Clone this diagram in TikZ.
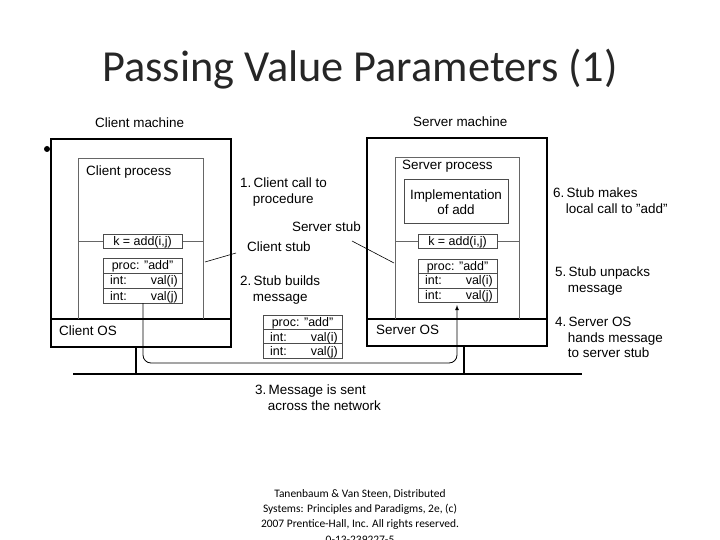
\documentclass[tikz,border=0pt]{standalone}
\usepackage{fontspec}
\setmainfont{Liberation Sans}
\newfontfamily\calib{Carlito}
\begin{document}
\begin{tikzpicture}[x=1bp,y=-1bp,
  mach/.style={draw=black,line width=1.3bp},
  proc/.style={draw=black!60,line width=0.9bp},
  box/.style={draw=black!70,line width=0.9bp},
  lbl/.style={font=\fontsize{13.5}{15.5}\selectfont,align=left,anchor=north west,inner sep=0pt},
  cell/.style={font=\fontsize{12.5}{13}\selectfont,inner sep=0pt,anchor=base},
  cw/.style={cell,anchor=base west},
  ce/.style={cell,anchor=base east}]
\useasboundingbox (0,0) rectangle (720,540);
\node[font=\calib\fontsize{44.5}{46}\selectfont,text=black!85] (title) at (360,69) {Passing Value Parameters (1)};
\fill (47,149) circle (3);
% client machine
\draw[mach] (51,139) rectangle (231,347);
\draw[mach] (51,319) -- (231,319);
\draw[proc] (78,319) -- (78,158) -- (203,158) -- (203,319);
\node[lbl] (cm) at (95,118) {Client machine};
\node[lbl] (cp) at (86,166) {Client process};
\node[lbl] (cos) at (59,326) {Client OS};
\draw[proc] (78,241) -- (103,241) (182,241) -- (203,241);
\draw[box] (103,234) rectangle (182,248);
\node[cell] (ck) at (142.5,246) {k = add(i,j)};
\draw[box] (103,258) rectangle (182,303) (103,273) -- (182,273) (103,288) -- (182,288);
\node[cell] (c1) at (142.5,270) {proc: "add"};
\node[cw] at (110,285) {int:};
\node[ce] at (178,285) {val(i)};
\node[cw] at (110,300) {int:};
\node[ce] at (178,300) {val(j)};
% middle message
\draw[box] (263,315) rectangle (342,358) (263,329.5) -- (342,329.5) (263,343.5) -- (342,343.5);
\node[cell] at (302.5,326.5) {proc: "add"};
\node[cw] at (270,341) {int:};
\node[ce] at (338,341) {val(i)};
\node[cw] at (270,355.5) {int:};
\node[ce] at (338,355.5) {val(j)};
% server machine
\draw[mach] (367,138) rectangle (547,346);
\draw[mach] (367,319) -- (547,319);
\draw[proc] (395,319) -- (395,157) -- (519,157) -- (519,319);
\node[lbl] (sm) at (413,117) {Server machine};
\node[lbl] (sp) at (402,160) {Server process};
\node[lbl] (sos) at (376,325) {Server OS};
\draw[box] (404,179) rectangle (508,223);
\node[font=\fontsize{13.5}{15.5}\selectfont,align=center] (impl) at (456,202) {Implementation\\of add};
\draw[proc] (395,241) -- (418,241) (497,241) -- (519,241);
\draw[box] (418,234) rectangle (497,248);
\node[cell] (sk) at (457.5,246) {k = add(i,j)};
\draw[box] (418,259) rectangle (497,302) (418,273.5) -- (497,273.5) (418,288) -- (497,288);
\node[cell] at (457.5,270.5) {proc: "add"};
\node[cw] at (425,285) {int:};
\node[ce] at (493,285) {val(i)};
\node[cw] at (425,299.5) {int:};
\node[ce] at (493,299.5) {val(j)};
% network
\draw[line width=2bp] (73,374) -- (582,374);
\draw[line width=2bp] (136,347) -- (136,374) (464,346) -- (464,374);
\draw[line width=0.8bp,-latex,rounded corners=8bp] (143,303) -- (143,363) -- (457,363) -- (457,305);
% labels
\node[lbl] (l1) at (240,178) {1.\,Client call to\\\hspace*{0.95em}procedure};
\node[lbl,anchor=north east] (ss) at (361,222) {Server stub};
\node[lbl] (cs) at (247,242) {Client stub};
\node[lbl] (l2) at (240,276) {2.\,Stub builds\\\hspace*{0.95em}message};
\node[lbl] (l3) at (255,385) {3.\,Message is sent\\\hspace*{0.95em}across the network};
\node[lbl] (l6) at (553,188) {6.\,Stub makes\\\hspace*{0.95em}local call to "add"};
\node[lbl] (l5) at (555,267) {5.\,Stub unpacks\\\hspace*{0.95em}message};
\node[lbl] (l4) at (555,317) {4.\,Server OS\\\hspace*{0.95em}hands message\\\hspace*{0.95em}to server stub};
\draw[line width=0.6bp] (236,253) -- (205,262);
\draw[line width=0.6bp] (352,241) -- (394,263);
\node[font=\calib\fontsize{11.5}{15.3}\selectfont,align=center,anchor=north] (foot) at (360,486) {Tanenbaum \& Van Steen, Distributed\\Systems: Principles and Paradigms, 2e, (c)\\2007 Prentice-Hall, Inc. All rights reserved.\\0-13-239227-5};
\end{tikzpicture}
\end{document}
